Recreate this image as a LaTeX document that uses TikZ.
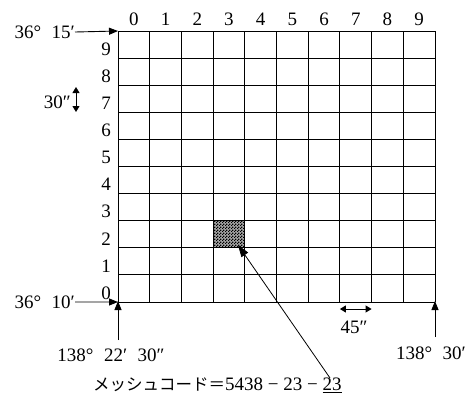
\documentclass[tikz,border=0pt]{standalone}
\usepackage{fontspec}
\setmainfont{Liberation Serif}
\newfontfamily\jpfont{Noto Sans CJK JP}
\usetikzlibrary{arrows.meta,patterns}
\pgfdeclarepatternformonly{finecheck}{\pgfpointorigin}{\pgfpoint{3pt}{3pt}}{\pgfpoint{3pt}{3pt}}{%
  \pgfpathrectangle{\pgfpointorigin}{\pgfpoint{1.5pt}{1.5pt}}%
  \pgfpathrectangle{\pgfpoint{1.5pt}{1.5pt}}{\pgfpoint{1.5pt}{1.5pt}}%
  \pgfusepath{fill}}
\begin{document}
\begin{tikzpicture}[x=1pt,y=-1pt,
  lbl/.style={font=\fontsize{19}{21}\selectfont, inner sep=0pt},
  arr/.style={-{Triangle[length=9pt,width=7pt]}, line width=0.9pt},
  darr/.style={{Triangle[length=6pt,width=7pt]}-{Triangle[length=6pt,width=7pt]}, line width=1pt},
  gridline/.style={line width=0.9pt}]
\useasboundingbox (0,0) rectangle (467,400);
\def\gx{118}\def\gy{31}\def\cw{31.7}\def\ch{27.1}
% shaded cell (column 3, row 2)
\fill[black!35] ({\gx+3*\cw},{\gy+7*\ch}) rectangle ({\gx+4*\cw},{\gy+8*\ch});
\path[pattern=finecheck, pattern color=black] ({\gx+3*\cw},{\gy+7*\ch}) rectangle ({\gx+4*\cw},{\gy+8*\ch});
% grid
\foreach \i in {0,...,10} {
  \draw[gridline] ({\gx+\i*\cw},\gy) -- ({\gx+\i*\cw},{\gy+10*\ch});
  \draw[gridline] (\gx,{\gy+\i*\ch}) -- ({\gx+10*\cw},{\gy+\i*\ch});
}
\coordinate (tl) at (\gx,\gy);
\coordinate (bl) at (\gx,{\gy+10*\ch});
\coordinate (br) at ({\gx+10*\cw},{\gy+10*\ch});
\coordinate (cell) at (238,245);
% column labels
\foreach \i in {0,...,9} {
  \node[lbl] (c\i) at ({\gx+(\i+0.5)*\cw},19) {\i};
}
% row labels
\foreach \i in {0,...,9} {
  \node[lbl] (r\i) at (106,{\gy+(9.5-\i)*\ch+4.5}) {\i};
}
% latitude labels
\node[lbl, anchor=east] (lat1) at (75,32) {36°\hspace{0.55em}15′};
\node[lbl, anchor=east] (lat0) at (75,302) {36°\hspace{0.55em}10′};
\draw[arr] (lat1.east) -- (tl);
\draw[arr] (lat0.east) -- (bl);
% longitude labels
\node[lbl] (lon0) at (111,355) {138°\hspace{0.55em}22′\hspace{0.55em}30″};
\node[lbl, anchor=east] (lon1) at (466,353) {138°\hspace{0.55em}30′};
\coordinate (lon0a) at (\gx,340);
\coordinate (lon1a) at ({\gx+10*\cw},337);
\draw[arr] (lon0a) -- ([yshift=1pt]bl);
\draw[arr] (lon1a) -- ([yshift=1pt]br);
% 30'' marker
\coordinate (v0) at (76,87);
\coordinate (v1) at (76,112);
\draw[darr] (v0) -- (v1);
\node[lbl, anchor=east] (s30) at (71,102) {30″};
% 45'' marker
\coordinate (h0) at ({\gx+7*\cw},309);
\coordinate (h1) at ({\gx+8*\cw},309);
\draw[darr] (h0) -- (h1);
\node[lbl] (s45) at (354,327) {45″};
% mesh code
\node[lbl, anchor=west] (code) at (93,385) {{\jpfont\fontsize{16.5}{18}\selectfont メッシュコード＝}5438\hspace{0.25em}−\hspace{0.25em}23\hspace{0.25em}−\hspace{0.25em}\underline{23}};
\coordinate (codeend) at (330,378);
\draw[-{Triangle[length=12pt,width=8pt]}, line width=0.8pt] (codeend) -- (cell);
\end{tikzpicture}
\end{document}
